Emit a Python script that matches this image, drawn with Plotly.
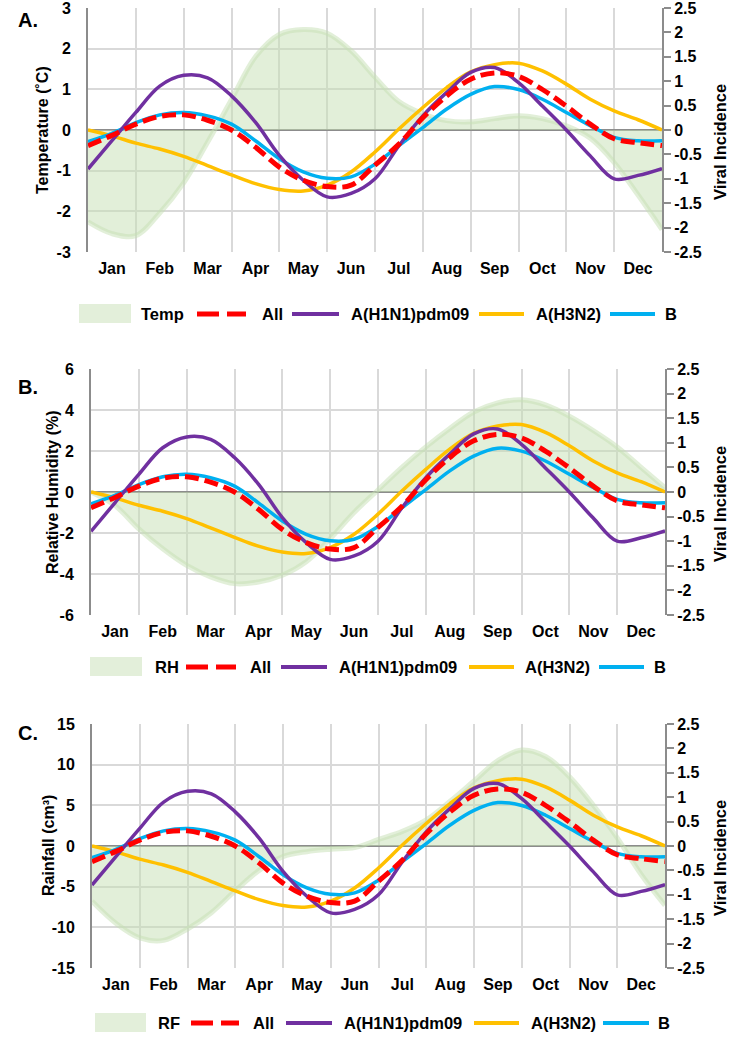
import plotly.graph_objects as go

# ---------------- data ----------------
months = ["Jan", "Feb", "Mar", "Apr", "May", "Jun", "Jul", "Aug", "Sep", "Oct", "Nov", "Dec"]
month_pos = [0, 0.5, 1, 1.5, 2, 2.5, 3, 3.5, 4, 4.5, 5, 5.5, 6,
             6.5, 7, 7.5, 8, 8.5, 9, 9.5, 10, 10.5, 11, 11.5, 12]

vi_all = [-0.32, -0.11, 0.12, 0.28, 0.31, 0.20, 0.00, -0.35, -0.76, -1.03, -1.16, -1.13, -0.72,
          -0.29, 0.25, 0.70, 1.04, 1.17, 1.10, 0.83, 0.49, 0.12, -0.18, -0.26, -0.32]
vi_h1n1 = [-0.80, -0.22, 0.36, 0.90, 1.12, 1.07, 0.70, 0.16, -0.52, -1.03, -1.37, -1.30, -1.00,
           -0.32, 0.29, 0.77, 1.18, 1.28, 0.97, 0.49, 0.00, -0.53, -1.00, -0.93, -0.79]
vi_h3n2 = [0.00, -0.12, -0.27, -0.39, -0.54, -0.73, -0.92, -1.10, -1.22, -1.25, -1.13, -0.86, -0.45,
           0.02, 0.46, 0.87, 1.19, 1.34, 1.37, 1.21, 0.94, 0.63, 0.39, 0.21, 0.00]
vi_b = [-0.24, -0.07, 0.15, 0.31, 0.36, 0.29, 0.12, -0.22, -0.59, -0.86, -0.99, -0.96, -0.70,
        -0.32, 0.05, 0.43, 0.73, 0.89, 0.83, 0.63, 0.36, 0.09, -0.15, -0.22, -0.22]

temp = [-2.26, -2.55, -2.60, -2.04, -1.30, -0.30, 0.75, 1.80, 2.35, 2.47, 2.38, 1.95, 1.30,
        0.70, 0.40, 0.23, 0.20, 0.28, 0.35, 0.28, 0.10, -0.20, -0.80, -1.60, -2.45]
rh = [0.00, -0.66, -1.80, -2.77, -3.58, -4.14, -4.47, -4.39, -4.06, -3.40, -2.28, -1.00, 0.10,
      1.20, 2.20, 3.10, 3.90, 4.35, 4.50, 4.25, 3.70, 3.00, 2.20, 1.20, 0.20]
rf = [-6.8, -9.5, -11.3, -11.6, -10.2, -8.2, -5.5, -3.0, -1.3, -0.7, -0.4, -0.2, 0.8,
      1.8, 3.2, 5.5, 8.0, 10.5, 11.8, 11.0, 8.5, 5.0, 1.0, -3.5, -7.3]

series_names = ["All", "A(H1N1)pdm09", "A(H3N2)", "B"]

# ---------------- styling ----------------
W, H = 750, 1041
FONT = "Liberation Sans, Arial, sans-serif"
GREEN_FILL = "rgba(198,224,180,0.5)"
GREEN_SWATCH = "#e3efda"
GRID = "#d9d9d9"
AXIS = "#8c8c8c"
COL = {"All": "#ff0000", "A(H1N1)pdm09": "#7030a0", "A(H3N2)": "#ffc000", "B": "#00b0f0"}
VI = {"All": vi_all, "A(H1N1)pdm09": vi_h1n1, "A(H3N2)": vi_h3n2, "B": vi_b}
DRAW_ORDER = ["A(H3N2)", "B", "A(H1N1)pdm09", "All"]
EPS = 1e-6


def px(x):
    return x / W


def py(y):
    return 1 - y / H


panels = [
    dict(lab="A.", clim=temp, cname="Temp", ytitle="Temperature (˚C)", yr=[-3, 3], dt=1,
         x0=88, x1=662, y0=8, y1=252, lab_xy=(28, 20), ttl_x=42,
         leg_y=314, leg=dict(sw=(79, 131), ct=139, red=(197, 246), allt=260,
                             pur=(292, 339), h1t=349, org=(479, 524), h3t=534,
                             blu=(610, 655), bt=663)),
    dict(lab="B.", clim=rh, cname="RH", ytitle="Relative Humidity (%)", yr=[-6, 6], dt=2,
         x0=91, x1=665, y0=369, y1=615, lab_xy=(28, 387), ttl_x=52,
         leg_y=667, leg=dict(sw=(90, 142), ct=153, red=(186, 236), allt=248,
                             pur=(281, 327), h1t=337, org=(469, 514), h3t=523,
                             blu=(599, 644), bt=652)),
    dict(lab="C.", clim=rf, cname="RF", ytitle="Rainfall (cm³)", yr=[-15, 15], dt=5,
         x0=92, x1=665, y0=724, y1=968, lab_xy=(28, 733), ttl_x=48,
         leg_y=1023, leg=dict(sw=(95, 146), ct=156, red=(191, 239), allt=251,
                              pur=(286, 332), h1t=342, org=(474, 519), h3t=529,
                              blu=(603, 649), bt=656)),
]

fig = go.Figure()
layout = dict(width=W, height=H, margin=dict(l=0, r=0, t=0, b=0),
              paper_bgcolor="white", plot_bgcolor="white", showlegend=False,
              template="none", font=dict(family=FONT, color="black"))
annotations = []
shapes = []

right_vals = [-2.5, -2, -1.5, -1, -0.5, 0, 0.5, 1, 1.5, 2, 2.5]

for i, p in enumerate(panels):
    xa = "x" if i == 0 else f"x{i+1}"
    yl = f"y{2*i+1}" if i > 0 else "y"
    yr_ = f"y{2*i+2}"
    xkey = "xaxis" if i == 0 else f"xaxis{i+1}"
    ylkey = "yaxis" if i == 0 else f"yaxis{2*i+1}"
    yrkey = f"yaxis{2*i+2}"

    layout[xkey] = dict(
        domain=[px(p["x0"]), px(p["x1"])], range=[0, 12], anchor=yl,
        tickmode="array", tickvals=[m + 0.5 for m in range(12)], ticktext=months,
        showgrid=False, zeroline=False, showline=False, ticks="",
        tickfont=dict(family=FONT, size=16, weight="bold", color="black"),
        ticklabelstandoff=5, ticklabeloverflow="allow",
        minor=dict(tickmode="linear", tick0=0, dtick=1, showgrid=True,
                   gridcolor=GRID, gridwidth=2, ticks=""),
        automargin=False, fixedrange=True,
    )
    lvals = list(range(p["yr"][0], p["yr"][1] + 1, p["dt"]))
    yr0, yr1 = p["yr"]
    layout[ylkey] = dict(
        domain=[py(p["y1"]), py(p["y0"])],
        range=[yr0 - EPS * abs(yr0), yr1 + EPS * abs(yr1)], anchor=xa,
        tickmode="array", tickvals=lvals, ticktext=[str(v) for v in lvals],
        showgrid=True, gridcolor=GRID, gridwidth=2,
        zeroline=True, zerolinecolor=AXIS, zerolinewidth=2,
        showline=True, linecolor=AXIS, linewidth=2, ticks="",
        tickfont=dict(family=FONT, size=16, weight="bold", color="black"),
        ticklabelstandoff=12, ticklabeloverflow="allow",
        automargin=False, fixedrange=True,
    )
    layout[yrkey] = dict(
        overlaying=yl, side="right", anchor=xa, range=[-2.5 - 2.5 * EPS, 2.5 + 2.5 * EPS],
        tickmode="array", tickvals=right_vals, ticktext=[f"{v:g}" for v in right_vals],
        showgrid=False, zeroline=False, showline=True, linecolor=AXIS, linewidth=2,
        ticks="outside", ticklen=7, tickwidth=2, tickcolor=AXIS,
        tickfont=dict(family=FONT, size=16, weight="bold", color="black"),
        ticklabeloverflow="allow",
        automargin=False, fixedrange=True,
    )

    # climate shaded area (left axis)
    fig.add_trace(go.Scatter(
        x=month_pos, y=p["clim"], xaxis=xa, yaxis=yl, mode="lines",
        fill="tozeroy", fillcolor=GREEN_FILL,
        line=dict(color=GREEN_FILL, width=5, shape="spline", smoothing=1),
        name=p["cname"], hoverinfo="skip"))

    # viral incidence lines (right axis)
    for s in DRAW_ORDER:
        if s == "All":
            ln = dict(color=COL[s], width=5, dash="14px,6px", shape="spline", smoothing=1)
        else:
            ln = dict(color=COL[s], width=3.5, shape="spline", smoothing=1)
        fig.add_trace(go.Scatter(x=month_pos, y=VI[s], xaxis=xa, yaxis=yr_, mode="lines",
                                 line=ln, name=s, hoverinfo="skip"))

    # panel label
    annotations.append(dict(x=px(p["lab_xy"][0]), y=py(p["lab_xy"][1]), xref="paper", yref="paper",
                            text=p["lab"], showarrow=False, xanchor="center", yanchor="middle",
                            font=dict(family=FONT, size=20, weight="bold", color="black")))
    # axis titles
    ymid = (p["y0"] + p["y1"]) / 2
    annotations.append(dict(x=px(p["ttl_x"]), y=py(ymid), xref="paper", yref="paper",
                            text=p["ytitle"], textangle=-90, showarrow=False,
                            xanchor="center", yanchor="middle",
                            font=dict(family=FONT, size=16, weight="bold", color="black")))
    annotations.append(dict(x=px(720), y=py(ymid + 12), xref="paper", yref="paper",
                            text="Viral Incidence", textangle=-90, showarrow=False,
                            xanchor="center", yanchor="middle",
                            font=dict(family=FONT, size=16.5, weight="bold", color="black")))

    # legend (drawn manually)
    L = p["leg"]
    ly = p["leg_y"]
    shapes.append(dict(type="rect", xref="paper", yref="paper",
                       x0=px(L["sw"][0]), x1=px(L["sw"][1]), y0=py(ly + 9), y1=py(ly - 10),
                       fillcolor=GREEN_SWATCH, line=dict(width=0), layer="above"))
    for key, s in [("red", "All"), ("pur", "A(H1N1)pdm09"), ("org", "A(H3N2)"), ("blu", "B")]:
        ln = dict(color=COL[s], width=5 if s == "All" else 4)
        if s == "All":
            ln["dash"] = "22px,8px"
        shapes.append(dict(type="line", xref="paper", yref="paper",
                           x0=px(L[key][0]), x1=px(L[key][1]), y0=py(ly), y1=py(ly), line=ln))
    for key, txt in [("ct", p["cname"]), ("allt", "All"), ("h1t", "A(H1N1)pdm09"),
                     ("h3t", "A(H3N2)"), ("bt", "B")]:
        annotations.append(dict(x=px(L[key]), y=py(ly), xref="paper", yref="paper", text=txt,
                                showarrow=False, xanchor="left", yanchor="middle",
                                font=dict(family=FONT, size=16.5, weight="bold", color="black")))

layout["annotations"] = annotations
layout["shapes"] = shapes
fig.update_layout(**layout)
fig.write_html("out.html", config={"displayModeBar": False},
               post_script="document.body.style.margin='0px';document.body.style.padding='0px';")
